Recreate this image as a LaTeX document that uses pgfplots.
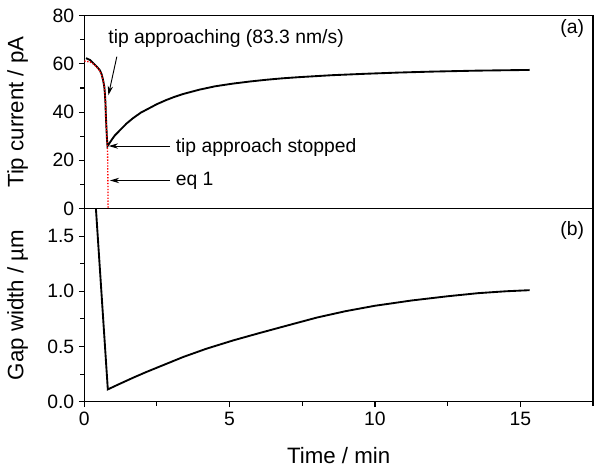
\documentclass[border=0pt]{standalone}
\usepackage{fontspec}
\setmainfont{Liberation Sans}
\usepackage{pgfplots}
\pgfplotsset{compat=1.18}
\usetikzlibrary{arrows.meta}
\begin{document}
\begin{tikzpicture}
\useasboundingbox (-63.2pt,-53.5pt) rectangle (387.5pt,301.3pt);
\pgfplotsset{
 every axis/.append style={
  scale only axis, width=381.5pt, xmin=0, xmax=17.5,
  axis line style={line width=1pt},
  tick style={line width=0.8pt, black},
  tick align=outside,
  major tick length=4pt, minor tick length=3pt,
  font=\fontsize{14.5}{17}\selectfont,
  /pgf/number format/assume math mode=true,
  label style={font=\fontsize{16.7}{20}\selectfont},
  ylabel style={at={(axis description cs:0,0.5)}, anchor=center, rotate=0, yshift=50pt},
 }
}
\begin{axis}[at={(0,145pt)}, height=144.5pt, ymin=0, ymax=80,
  ytick={0,20,40,60,80}, minor ytick={10,30,50,70}, xtick=\empty,
  ytick pos=left, ylabel={Tip current / pA}]
\addplot[black, line width=1.4pt] coordinates {
(0.06,62.4) (0.2,61.6) (0.31,60.3) (0.42,59.0) (0.54,57.3) (0.60,55.6) (0.65,53.1)
(0.69,50.5) (0.71,47.6) (0.73,43.5) (0.74,39.3) (0.76,34) (0.78,29) (0.80,25.9)
(0.95,28.6) (1.05,30.3) (1.23,32.5) (1.45,35.2) (1.68,37.5) (1.95,39.8) (2.25,41.7)
(2.5,43.3) (2.82,45.0) (3.1,46.3) (3.4,47.5) (3.96,49.3) (4.5,50.7) (5.1,51.8)
(5.7,52.7) (6.25,53.4) (6.8,54.0) (7.39,54.5) (8.5,55.3) (9.67,55.9) (10.8,56.4)
(11.95,56.8) (13.5,57.2) (15.32,57.5)};
\addplot[red, dash pattern=on 1pt off 1.2pt, line width=1pt] coordinates {
(0,61.2) (0.2,60.8) (0.31,60.0) (0.42,58.8) (0.54,57.0) (0.60,55.3) (0.65,53.0)
(0.69,50.5) (0.71,47.6) (0.73,43.5) (0.74,39.3) (0.76,34) (0.78,29) (0.80,25)
(0.81,15) (0.82,0)};
\draw[-{Stealth[length=7pt,width=4pt]}, line width=0.7pt] (axis cs:1.12,63) -- (axis cs:0.83,47);
\node[anchor=base west, inner sep=0pt] at (axis cs:0.82,68.3) {tip approaching (83.3 nm/s)};
\draw[-{Stealth[length=7pt,width=4pt]}, line width=0.7pt] (axis cs:2.95,25.9) -- (axis cs:0.84,25.9);
\node[anchor=base west, inner sep=0pt] at (axis cs:3.14,23.4) {tip approach stopped};
\draw[-{Stealth[length=7pt,width=4pt]}, line width=0.7pt] (axis cs:2.95,11.6) -- (axis cs:0.88,11.6);
\node[anchor=base west, inner sep=0pt] at (axis cs:3.14,9.5) {eq 1};
\node[anchor=east, inner sep=0pt] at (axis cs:17.2,74.5) {(a)};
\end{axis}
\begin{axis}[at={(0,0)}, height=145pt, ymin=0, ymax=1.75,
  ytick={0,0.5,1,1.5}, minor ytick={0.25,0.75,1.25},
  xtick={0,5,10,15}, minor xtick={2.5,7.5,12.5,17.5},
  xtick pos=bottom, ytick pos=left,
  yticklabel style={/pgf/number format/.cd, fixed, fixed zerofill, precision=1},
  ylabel={Gap width / µm}, xlabel={Time / min},
  xlabel style={at={(axis description cs:0.5,0)}, anchor=center, yshift=-40pt}]
\addplot[black, line width=1.4pt] coordinates {
(0.35,1.95) (0.81,0.112) (1.2,0.16) (1.70,0.22) (2.14,0.27) (2.7,0.33) (3.41,0.406)
(4.2,0.48) (5.13,0.556) (6.0,0.62) (6.84,0.68) (8.0,0.762) (8.99,0.82) (10.0,0.869)
(11.27,0.917) (12.5,0.955) (13.55,0.983) (14.5,1.0) (15.32,1.01)};
\node[anchor=east, inner sep=0pt] at (axis cs:17.2,1.55) {(b)};
\end{axis}
\end{tikzpicture}
\end{document}
